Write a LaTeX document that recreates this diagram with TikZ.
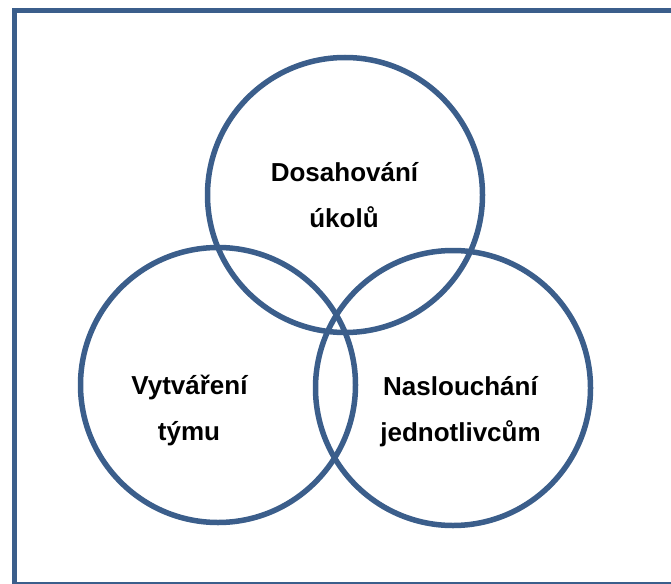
\documentclass[tikz,border=0pt]{standalone}
\usepackage{fontspec}
\setmainfont{Liberation Sans}
\definecolor{ringblue}{RGB}{59,94,139}
\begin{document}
\begin{tikzpicture}[x=1pt,y=-1pt,
  ring/.style={draw=ringblue,line width=5.5pt},
  label/.style={anchor=base,inner sep=0pt,font=\fontsize{26}{30}\selectfont\bfseries}]
\useasboundingbox (0,0) rectangle (671,583);
\clip (0,0) rectangle (671,583);
% outer frame
\draw[ringblue,line width=5pt] (14.5,10.5) rectangle (700,584);
% three overlapping circles
\node[ring,circle,minimum size=275pt,inner sep=0pt] (top) at (345,195) {};
\node[ring,circle,minimum size=275pt,inner sep=0pt] (left) at (218,385) {};
\node[ring,circle,minimum size=275pt,inner sep=0pt] (right) at (453,388) {};
% labels
\node[label] (t1) at (344.5,181) {Dosahování};
\node[label] (t2) at (344,227) {úkolů};
\node[label] (l1) at (189.5,394) {Vytváření};
\node[label] (l2) at (189,440) {týmu};
\node[label] (r1) at (460.5,395) {Naslouchání};
\node[label] (r2) at (460.5,441) {jednotlivcům};
\end{tikzpicture}
\end{document}
